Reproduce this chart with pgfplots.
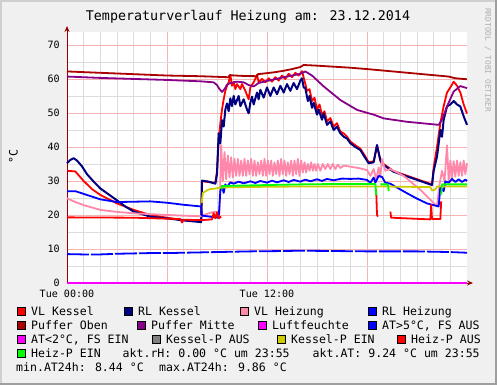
\documentclass[border=0pt]{standalone}
\usepackage{pgfplots}
\pgfplotsset{compat=1.18}
\usepackage{fontspec}
\setmainfont{DejaVu Sans Mono}
\usetikzlibrary{arrows.meta}
\definecolor{bgcol}{HTML}{F0F0F0}
\definecolor{shadeA}{HTML}{CFCFCF}
\definecolor{shadeB}{HTML}{9E9E9E}
\definecolor{gridc}{HTML}{DCDCDC}
\definecolor{mgridc}{HTML}{F4B4B4}
\definecolor{axiscol}{HTML}{900000}
\definecolor{vlk}{HTML}{FF0000}
\definecolor{rlk}{HTML}{000080}
\definecolor{vlh}{HTML}{FF88AA}
\definecolor{rlh}{HTML}{0000FF}
\definecolor{pob}{HTML}{AA0000}
\definecolor{pmi}{HTML}{880088}
\definecolor{luf}{HTML}{FF00FF}
\definecolor{kpa}{HTML}{808080}
\definecolor{kpe}{HTML}{CCCC00}
\definecolor{hpa}{HTML}{FF0000}
\definecolor{hpe}{HTML}{00FF00}
\definecolor{rrdtxt}{HTML}{B0B0B0}
\newcommand{\lgfont}{\fontsize{11.6}{13}\selectfont}
\newcommand{\lgbox}[4]{%
  \filldraw[fill=#3, draw=black, line width=0.7bp] (#1,#2-4) rectangle (#1+8,#2+4);
  \node[anchor=base west, inner sep=0pt, font=\lgfont] at (#1+14,#2-4.2) {#4};}
\begin{document}
\begin{tikzpicture}[x=1bp,y=1bp]
\fill[bgcol] (0,0) rectangle (497,385);
\fill[shadeA] (0,0) rectangle (2,385);
\fill[shadeA] (0,383) rectangle (497,385);
\fill[shadeB] (495,0) rectangle (497,385);
\fill[shadeB] (0,0) rectangle (497,2);
\begin{axis}[
  at={(67bp,102bp)}, anchor=south west,
  scale only axis, width=400bp, height=251bp,
  xmin=0, xmax=24, ymin=0, ymax=73.8,
  axis x line*=bottom, axis y line*=left,
  axis line style={draw=axiscol, line width=1bp},
  x axis line style={-{Stealth[length=6bp,width=5bp]}, shorten >=-6bp},
  y axis line style={-{Stealth[length=6bp,width=5bp]}, shorten >=-6bp},
  axis background/.style={fill=white},
  xtick={0,6,12,18}, xticklabels={Tue 00:00,,Tue 12:00,},
  minor xtick={1,2,3,4,5,7,8,9,10,11,13,14,15,16,17,19,20,21,22,23},
  ytick={0,10,...,70}, minor ytick={5,15,...,65},
  grid=both,
  major grid style={draw=mgridc, line width=0.8bp},
  minor grid style={draw=gridc, line width=0.8bp},
  major tick length=0pt, minor tick length=0pt,
  tick label style={font=\fontsize{10.1}{11}\selectfont},
  /pgf/number format/assume math mode=true,
  yticklabel style={anchor=east, inner sep=0pt, xshift=-7bp},
  xticklabel style={anchor=north, inner sep=0pt, yshift=-7bp},
  unbounded coords=jump,
  clip=false,
  every axis plot/.append style={line width=1.8bp, line join=round},
]
% VL Kessel
\addplot[vlk] coordinates {(0,33) (0.5,32.8) (1,30) (1.5,27.6) (2,25.9) (3,23.4) (4,21.5) (5,20) (6,19.2) (6.8,18.6) (7.5,18.3) (8.05,18.2) (8.1,29.9) (8.5,29.7) (8.9,29.4) (9.0,33) (9.1,42) (9.2,47) (9.3,51) (9.4,54) (9.5,56.5) (9.6,58) (9.7,59) (9.8,61.2) (9.9,58) (10.0,59) (10.1,57) (10.2,58.5) (10.4,57) (10.5,58.5) (10.7,56.5) (10.9,54) (11.0,57.5) (11.2,59) (11.4,61.2) (11.5,59) (11.7,60) (11.9,59) (12.1,60.2) (12.3,59.2) (12.5,60.5) (12.7,59.5) (12.9,61) (13.1,60) (13.3,61.5) (13.5,60.5) (13.7,61.8) (13.9,61) (14.1,62.3) (14.25,59.5) (14.4,56.5) (14.55,57) (14.7,53.5) (14.85,54.5) (15.0,51) (15.15,52.5) (15.3,49.5) (15.45,50.5) (15.6,47.5) (15.8,48.5) (16.0,46) (16.2,47) (16.4,44.5) (16.6,44) (16.8,43) (17.0,41.6) (17.3,40.5) (17.6,39.5) (17.8,38) (18.1,35.5) (18.4,35.8) (18.6,40.3) (18.8,36.2) (18.9,35.3) (19.6,32.9) (21.9,29) (22.0,34) (22.2,40) (22.4,47) (22.6,52) (22.8,56) (23.0,57.5) (23.2,59.2) (23.4,58) (23.6,56) (23.8,52.5) (24,49.8)};
% RL Kessel
\addplot[rlk, line width=2bp] coordinates {(0,35.2) (0.2,36.2) (0.4,36.7) (0.6,36) (0.9,34.3) (1.2,32) (1.6,29.8) (2,27.8) (2.4,26.4) (3,24.3) (3.5,22.5) (4,21) (5,19.5) (6,19) (7,18.4) (8.05,17.9) (8.1,30.1) (8.5,29.8) (8.9,29.2) (9.0,32) (9.1,44) (9.2,41) (9.3,47.9) (9.4,46) (9.5,51) (9.6,52.8) (9.7,50.5) (9.8,54.3) (9.9,52) (10.0,55) (10.1,52.5) (10.3,55) (10.4,52) (10.6,54) (10.8,51) (10.9,49.9) (11.0,53) (11.1,54.8) (11.2,52.5) (11.4,56) (11.5,54) (11.6,56.8) (11.8,54.5) (12,57.5) (12.2,55) (12.4,57.5) (12.6,55.5) (12.8,58) (13,56) (13.2,58.5) (13.4,56.5) (13.6,58.8) (13.8,57) (14.0,59.5) (14.1,60.2) (14.2,57.5) (14.3,57.3) (14.45,53.5) (14.55,55) (14.7,51.5) (14.8,53) (15.0,49.5) (15.1,51) (15.3,48) (15.4,49.9) (15.6,46.5) (15.8,47.5) (16.0,45) (16.2,46) (16.4,44) (16.6,43) (16.8,42.5) (17.0,41.1) (17.3,40) (17.6,39.1) (17.8,37.5) (18.1,35.2) (18.4,35.5) (18.6,40.6) (18.8,36) (18.9,35) (19.6,32.7) (21.9,28.8) (22.0,33) (22.2,37.2) (22.3,41) (22.4,45) (22.5,43) (22.6,48) (22.8,51.9) (23.0,52.5) (23.2,53.5) (23.4,52.5) (23.6,51.9) (23.8,49) (24,46.5)};
% VL Heizung
\addplot[vlh] coordinates {(0,24.9) (0.5,23.8) (1,22.9) (2,21.5) (3,20.9) (4,20.5) (6,20) (8,19.6) (8.5,20.5) (8.9,21) (9.15,20.5) (9.25,40.5) (9.35,30) (9.45,38.5) (9.55,30.5) (9.65,37.5) (9.75,31) (9.85,37) (9.95,31) (10.05,36.5) (10.15,31.5) (10.25,36.5) (10.35,31.5) (10.45,36) (10.55,31.5) (10.65,36.5) (10.75,31.5) (10.85,36) (10.95,32) (11.05,36.5) (11.15,31.5) (11.25,36) (11.35,31.5) (11.45,35.5) (11.55,32) (11.65,36) (11.75,31.5) (11.85,36.5) (11.95,31.5) (12.05,36) (12.15,32) (12.25,36) (12.35,31.5) (12.45,35.5) (12.55,32) (12.65,36) (12.75,31.5) (12.85,36.5) (12.95,32) (13.05,36) (13.15,31.5) (13.25,35.5) (13.35,32) (13.45,36) (13.55,31.5) (13.65,36) (13.75,32) (13.85,36.5) (13.95,31.5) (14.05,36) (14.15,32.5) (14.25,35.5) (14.35,32.5) (14.45,35) (14.55,33) (14.65,35.5) (14.75,33) (14.85,35) (14.95,33) (15.05,35) (15.2,33) (15.35,35) (15.5,33.5) (15.65,35) (15.8,33.5) (15.95,35) (16.1,33.5) (16.25,34.8) (16.4,33.8) (16.6,34.5) (17,34.2) (17.5,33.8) (18,33.2) (18.2,31.5) (18.4,33.5) (18.55,30.5) (18.7,34) (18.8,31) (18.9,36.5) (19.1,33) (19.4,33.5) (20.2,31.5) (21.2,27.4) (22.2,22.5) (22.35,29) (22.5,33) (22.65,30) (22.8,40.5) (22.9,30) (23.0,36) (23.1,31) (23.2,35.8) (23.3,31.3) (23.4,36) (23.5,31.5) (23.6,35.5) (23.7,31.5) (23.8,36) (23.9,32) (24,35.2)};
% RL Heizung
\addplot[rlh] coordinates {(0,27) (0.5,27) (1,26.2) (2,24.6) (3,23.8) (4,23.9) (5,24) (6,23.6) (7,23) (8.05,22.5) (8.1,19.8) (9.1,19.2) (9.2,27) (9.3,28.5) (9.4,26.5) (9.5,29) (9.6,28.2) (9.8,29.6) (10,29.2) (10.3,29.8) (10.6,29.3) (11,29.9) (11.3,29.4) (11.6,30) (12,29.5) (12.3,30.1) (12.6,29.6) (13,30.2) (13.3,29.7) (13.6,30.3) (14,29.8) (14.3,30.4) (14.6,29.9) (15,30.5) (15.3,30) (15.6,30.6) (16,30.2) (16.5,30.7) (17,30.6) (17.5,30.7) (18,30.3) (18.2,29.5) (18.4,31) (18.5,29.5) (18.7,31.5) (18.9,31.2) (19.1,29.5) (19.4,29.2) (20,27.5) (20.4,26.4) (21,24.8) (21.6,23.4) (22.3,22.5) (22.4,28.2) (22.6,27) (22.7,29.9) (22.9,29.5) (23.1,30.6) (23.3,29.7) (23.5,30.5) (23.7,29.7) (23.9,30.4) (24,30)};
% Puffer Oben
\addplot[pob] coordinates {(0,62.2) (2,61.8) (4,61.4) (6,61) (8,60.8) (9.7,60.5) (9.75,61.1) (10.5,60.9) (11.4,60.8) (11.45,61.4) (12,61.7) (12.5,62) (13,62.4) (13.5,62.9) (14,63.5) (14.2,64.1) (15,63.9) (16,63.6) (17,63.3) (18,62.9) (20,62) (22,61.1) (22.9,60.7) (23.3,60.2) (24,59.9)};
% Puffer Mitte
\addplot[pmi] coordinates {(0,60.7) (2,60.3) (4,60) (6,59.7) (8,59.3) (8.8,59) (9.0,58.2) (9.15,57) (9.3,56.2) (9.45,57) (9.6,58.3) (9.8,58.8) (10.2,59.2) (10.6,59) (10.9,58.2) (11.2,57.8) (11.5,58.8) (12,59.4) (13,60.5) (14,61.5) (14.3,62.2) (14.7,61) (15.4,57.8) (16.4,53.8) (17.4,50.9) (18.1,49.9) (18.4,49.5) (19,48.4) (20.4,47.4) (22.3,46.5) (22.5,48) (22.8,51.9) (23.2,56.3) (23.6,57.9) (24,57.3)};
% Luftfeuchte
\addplot[luf] coordinates {(0,0) (24,0)};
% AT > 5
\addplot[rlh, dash pattern=on 22bp off 2bp] coordinates {(0,8.5) (1,8.4) (2,8.4) (3,8.6) (4,8.7) (5,8.8) (6,8.8) (7,8.9) (8,9.0) (9,9.1) (10,9.2) (11,9.3) (12,9.35) (13,9.4) (14,9.5) (15,9.45) (16,9.4) (17,9.35) (18,9.3) (19,9.3) (20,9.3) (21,9.3) (22,9.2) (23,9.1) (24,8.9)};
% Kessel-P EIN
\addplot[kpe] coordinates {(8.08,23.5) (8.15,26.5) (8.5,27.5) (9.3,28.1) (12,28.3) (15,28.4) (18.6,28.4) (21.8,28.2) (21.9,27.2) (22.1,27.5) (22.2,28.4) (24,28.4)};
% Heiz-P AUS
\addplot[hpa] coordinates {(0,19.3) (4,19.2) (6.8,18.8) (6.9,17.8) (7.0,18.6) (8.1,18.5) (8.7,18.7) (8.8,20.5) (8.9,19) (9.0,20.8) (9.1,19) (9.25,19.5) (9.25,nan) (18.55,27.5) (18.6,20) (18.65,19.5) (18.65,nan) (19.4,21) (19.45,19.2) (21.8,18.7) (21.85,23) (21.9,18.8) (22.4,18.8) (22.45,24) (22.45,nan)};
% Heiz-P EIN
\addplot[hpe] coordinates {(9.28,27.5) (9.3,28.5) (10,28.6) (12,28.8) (14,29) (16,29.1) (18,29.1) (18.5,29.1) (18.55,25.8) (18.55,nan) (18.8,29) (19.25,29) (19.3,27) (19.3,nan) (22.45,26) (22.5,29) (24,29)};
\end{axis}
% title
\node[anchor=base, inner sep=0pt, font=\fontsize{13.4}{15}\selectfont] at (248,364.1) {Temperaturverlauf Heizung am: 23.12.2014};
% y label
\node[rotate=90, inner sep=0pt, font=\lgfont] at (13.3,228.3) {°C};
% rrdtool text
\node[rotate=-90, anchor=west, inner sep=0pt, text=rrdtxt, font=\fontsize{7.9}{9}\selectfont] at (488,377) {RRDTOOL / TOBI OETIKER};
% legend
\lgbox{17}{73.3}{vlk}{VL Kessel}
\lgbox{124}{73.3}{rlk}{RL Kessel}
\lgbox{240}{73.3}{vlh}{VL Heizung}
\lgbox{368}{73.3}{rlh}{RL Heizung}
\lgbox{17}{60}{pob}{Puffer Oben}
\lgbox{137}{60}{pmi}{Puffer Mitte}
\lgbox{258}{60}{luf}{Luftfeuchte}
\lgbox{368}{60}{rlh}{AT>5°C, FS AUS}
\lgbox{17}{45.7}{luf}{AT<2°C, FS EIN}
\lgbox{152}{45.7}{kpa}{Kessel-P AUS}
\lgbox{277}{45.7}{kpe}{Kessel-P EIN}
\lgbox{397}{45.7}{hpa}{Heiz-P AUS}
\lgbox{17}{31.3}{hpe}{Heiz-P EIN}
\node[anchor=base west, inner sep=0pt, font=\lgfont] at (122.5,27.1) {akt.rH: 0.00 °C um 23:55};
\node[anchor=base west, inner sep=0pt, font=\lgfont] at (312.5,27.1) {akt.AT: 9.24 °C um 23:55};
\node[anchor=base west, inner sep=0pt, font=\lgfont] at (16,13.8) {min.AT24h: 8.44 °C};
\node[anchor=base west, inner sep=0pt, font=\lgfont] at (159,13.8) {max.AT24h: 9.86 °C};
\useasboundingbox (0,0) rectangle (497,385);
\end{tikzpicture}
\end{document}
